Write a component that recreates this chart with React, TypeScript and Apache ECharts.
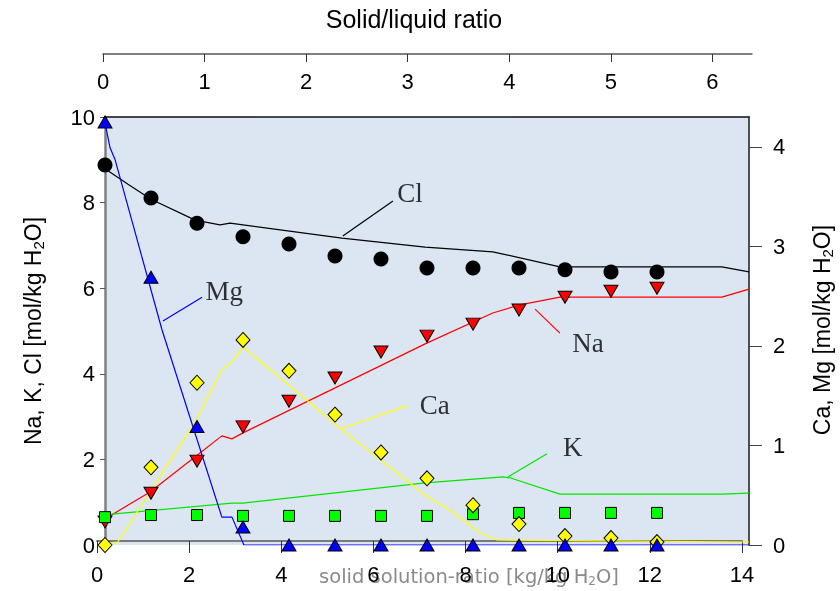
import React, { useEffect, useRef } from 'react';
import * as echarts from 'echarts';

// Measured points (x = step of solid solution ratio)
const stepX = [0, 1, 2, 3, 4, 5, 6, 7, 8, 9, 10, 11, 12];
const clPts = [8.88, 8.11, 7.52, 7.2, 7.03, 6.75, 6.68, 6.47, 6.47, 6.47, 6.43, 6.38, 6.38];
const naPts = [0.54, 1.21, 1.96, 2.76, 3.36, 3.9, 4.51, 4.88, 5.16, 5.49, 5.79, 5.93, 6.0];
const kPts = [0.65, 0.7, 0.7, 0.68, 0.68, 0.68, 0.68, 0.68, 0.72, 0.75, 0.75, 0.75, 0.75];
const caPts = [0, 0.78, 1.63, 2.06, 1.75, 1.31, 0.93, 0.67, 0.4, 0.21, 0.09, 0.07, 0.03];
const mgPts = [4.25, 2.69, 1.19, 0.18, 0, 0, 0, 0, 0, 0, 0, 0, 0];

// Model curves
const clLineX = [0, 0.5, 1.0, 1.96, 2.5, 2.72, 5.15, 6.96, 8.43, 9.89, 13.41, 14];
const clLineY = [8.79, 8.43, 8.08, 7.59, 7.48, 7.52, 7.17, 6.96, 6.85, 6.5, 6.5, 6.38];
const naLineX = [0, 0.98, 1.96, 2.54, 2.76, 3.0, 6.96, 8.43, 9.02, 9.89, 13.41, 14];
const naLineY = [0.61, 1.24, 2.06, 2.55, 2.48, 2.62, 4.7, 5.42, 5.61, 5.79, 5.79, 5.98];
const kLineX = [0, 0.15, 2.76, 3.0, 6.96, 8.65, 8.8, 9.89, 13.41, 14];
const kLineY = [0.61, 0.72, 0.98, 0.98, 1.45, 1.59, 1.57, 1.19, 1.19, 1.21];
const caLineX = [0, 0.28, 1.96, 2.54, 2.76, 3.0, 5.15, 6.96, 7.57, 8.15, 8.52, 14];
const caLineY = [0.02, 0.03, 1.24, 1.76, 1.84, 1.99, 1.16, 0.5, 0.33, 0.12, 0.05, 0.03];
const mgLineX = [0, 0.11, 0.22, 1.24, 2.54, 2.76, 3.02, 14];
const mgLineY = [4.24, 3.99, 3.87, 2.16, 0.28, 0.28, 0, 0];

// Curve labels and leaders
const clLabel = [6.63, 8.22];
const clLeader = [[5.17, 7.22], [6.26, 8.04]];
const naLabel = [10.5, 4.72];
const naLeader = [[9.35, 5.51], [9.89, 4.95]];
const kLabel = [10.17, 2.29];
const kLeader = [[8.76, 1.59], [9.61, 2.13]];
const caLabel = [7.17, 1.41];
const caLeader = [[5.15, 1.17], [6.57, 1.4]];
const mgLabel = [2.59, 2.55];
const mgLeader = [[1.26, 2.25], [2.11, 2.49]];

// Tick labels
const bottomTicks = [0, 2, 4, 6, 8, 10, 12, 14];
const topTicks = [0, 1, 2, 3, 4, 5, 6];
const leftTicks = [0, 2, 4, 6, 8, 10];
const rightTicks = [0, 1, 2, 3, 4];

const SANS = '"Liberation Sans", Arial, sans-serif';
const SERIF = '"Liberation Serif", "Times New Roman", serif';

const zip = (xs: number[], ys: number[]) => xs.map((x, i) => [x, ys[i]]);

export default function App() {
  const ref = useRef<HTMLDivElement>(null);
  useEffect(() => {
    if (!ref.current) return;
    const chart = echarts.init(ref.current, undefined, { renderer: 'svg' });

    const lineS = (name: string, data: number[][], color: string, yIdx: number) => ({
      name, type: 'line', xAxisIndex: 0, yAxisIndex: yIdx, data, showSymbol: false, symbol: 'none',
      lineStyle: { color, width: 1.2 }, silent: true, z: 2,
    });
    const labelS = (text: string, pos: number[], yIdx: number) => ({
      type: 'scatter', xAxisIndex: 0, yAxisIndex: yIdx, data: [pos], symbolSize: 1,
      itemStyle: { color: 'transparent' }, silent: true, z: 3,
      label: { show: true, position: 'inside', formatter: text, color: '#000', fontFamily: SERIF, fontSize: 27 },
    });
    const markS = (name: string, ys: number[], symbol: string, size: any, color: string, yIdx: number, rot = 0, border = 1) => ({
      name, type: 'scatter', xAxisIndex: 0, yAxisIndex: yIdx, data: zip(stepX, ys), symbol, symbolSize: size,
      symbolRotate: rot, itemStyle: { color, borderColor: '#000', borderWidth: border, opacity: 1 }, z: 4,
    });

    chart.setOption({
      animation: false,
      grid: [
        { left: 105, right: 91, top: 117, bottom: 46, show: true, backgroundColor: '#dce6f2', borderWidth: 0 },
        { left: 97, right: 98, top: 530, bottom: 50 },
        { left: 103, right: 88, top: 54, height: 20 },
      ],
      xAxis: [
        {
          gridIndex: 0, type: 'value', min: 0, max: 14, position: 'top',
          axisLine: { show: true, onZero: false, lineStyle: { color: '#111', width: 1.5 } },
          axisTick: { show: false }, axisLabel: { show: false }, splitLine: { show: false },
        },
        {
          gridIndex: 1, type: 'value', min: 0, max: 14, interval: 2, position: 'bottom',
          axisLine: { show: true, onZero: false, lineStyle: { color: '#7a7a7a', width: 2 } },
          axisTick: { show: true, length: 12, lineStyle: { color: '#333', width: 1 }, customValues: bottomTicks },
          axisLabel: { show: true, color: '#000', fontFamily: SANS, fontSize: 22, margin: 22, customValues: bottomTicks },
          splitLine: { show: false },
        },
        {
          gridIndex: 2, type: 'value', min: 0, max: 6.39, position: 'top',
          axisLine: { show: true, onZero: false, lineStyle: { color: '#555', width: 1.5 } },
          axisTick: { show: true, inside: true, length: 8, lineStyle: { color: '#333' }, customValues: topTicks },
          axisLabel: { show: true, inside: true, color: '#000', fontFamily: SANS, fontSize: 22, margin: 16, customValues: topTicks },
          splitLine: { show: false },
        },
      ],
      yAxis: [
        {
          gridIndex: 0, type: 'value', min: 0, max: 10, interval: 2, position: 'left',
          axisLine: { show: true, onZero: false, lineStyle: { color: '#808080', width: 2.5 } },
          axisTick: { show: true, length: 5, lineStyle: { color: '#555' }, customValues: leftTicks },
          axisLabel: { show: true, color: '#000', fontFamily: SANS, fontSize: 22, margin: 10, customValues: leftTicks },
          splitLine: { show: false },
        },
        {
          gridIndex: 0, type: 'value', min: 0, max: 4.3, position: 'right',
          axisLine: { show: true, onZero: false, lineStyle: { color: '#1a1a1a', width: 1.5 } },
          axisTick: { show: true, length: 13, lineStyle: { color: '#444' }, customValues: rightTicks },
          axisLabel: { show: true, color: '#000', fontFamily: SANS, fontSize: 22, margin: 24, customValues: rightTicks },
          splitLine: { show: false },
        },
        { gridIndex: 1, type: 'value', show: false, min: 0, max: 1 },
        { gridIndex: 2, type: 'value', show: false, min: 0, max: 1 },
      ],
      graphic: [
        {
          type: 'text', x: 414, y: 19, z: -10,
          style: { text: 'Solid/liquid ratio', fontFamily: SANS, fontSize: 25, fill: '#000', align: 'center', verticalAlign: 'middle' },
        },
        {
          type: 'text', x: 469, y: 576, z: -10,
          style: {
            text: 'solid solution-ratio [kg/kg H{s|2}O]', fontFamily: '"DejaVu Sans", sans-serif', fontSize: 19.5,
            fill: '#8a8a8a', align: 'center', verticalAlign: 'middle',
            rich: { s: { fontSize: 12, fill: '#8a8a8a', fontFamily: '"DejaVu Sans", sans-serif', padding: [10, 0, 0, 0] } },
          },
        },
        {
          type: 'text', x: 33, y: 331, rotation: Math.PI / 2,
          style: {
            text: 'Na, K, Cl [mol/kg H{s|2}O]', fontFamily: SANS, fontSize: 23, fill: '#000', align: 'center', verticalAlign: 'middle',
            rich: { s: { fontSize: 15, fill: '#000', fontFamily: SANS, padding: [11, 0, 0, 0] } },
          },
        },
        {
          type: 'text', x: 822, y: 330, rotation: Math.PI / 2,
          style: {
            text: 'Ca, Mg [mol/kg H{s|2}O]', fontFamily: SANS, fontSize: 23, fill: '#000', align: 'center', verticalAlign: 'middle',
            rich: { s: { fontSize: 15, fill: '#000', fontFamily: SANS, padding: [11, 0, 0, 0] } },
          },
        },
      ],
      series: [
        lineS('Cl model', zip(clLineX, clLineY), '#000000', 0),
        lineS('Na model', zip(naLineX, naLineY), '#ff0000', 0),
        lineS('K model', zip(kLineX, kLineY), '#00e600', 0),
        lineS('Ca model', zip(caLineX, caLineY), '#ffff00', 1),
        lineS('Mg model', zip(mgLineX, mgLineY), '#0000ff', 1),
        lineS('Cl leader', clLeader, '#000000', 0),
        lineS('Na leader', naLeader, '#ff0000', 0),
        lineS('K leader', kLeader, '#00e600', 0),
        lineS('Ca leader', caLeader, '#ffff00', 1),
        lineS('Mg leader', mgLeader, '#0000ff', 1),
        labelS('Cl', clLabel, 0),
        labelS('Na', naLabel, 0),
        labelS('K', kLabel, 0),
        labelS('Ca', caLabel, 1),
        labelS('Mg', mgLabel, 1),
        markS('Cl', clPts, 'circle', 15, '#000000', 0, 0, 0),
        markS('Na', naPts, 'triangle', [14, 12], '#ff0000', 0, 180),
        markS('K', kPts, 'rect', 11, '#00ff00', 0),
        markS('Ca', caPts, 'diamond', [14, 15], '#ffff00', 1),
        markS('Mg', mgPts, 'triangle', [14, 12], '#0000ff', 1),
      ],
    });
    return () => chart.dispose();
  }, []);
  return <div ref={ref} style={{ position: 'fixed', left: 0, top: 0, width: 840, height: 591 }} />;
}
